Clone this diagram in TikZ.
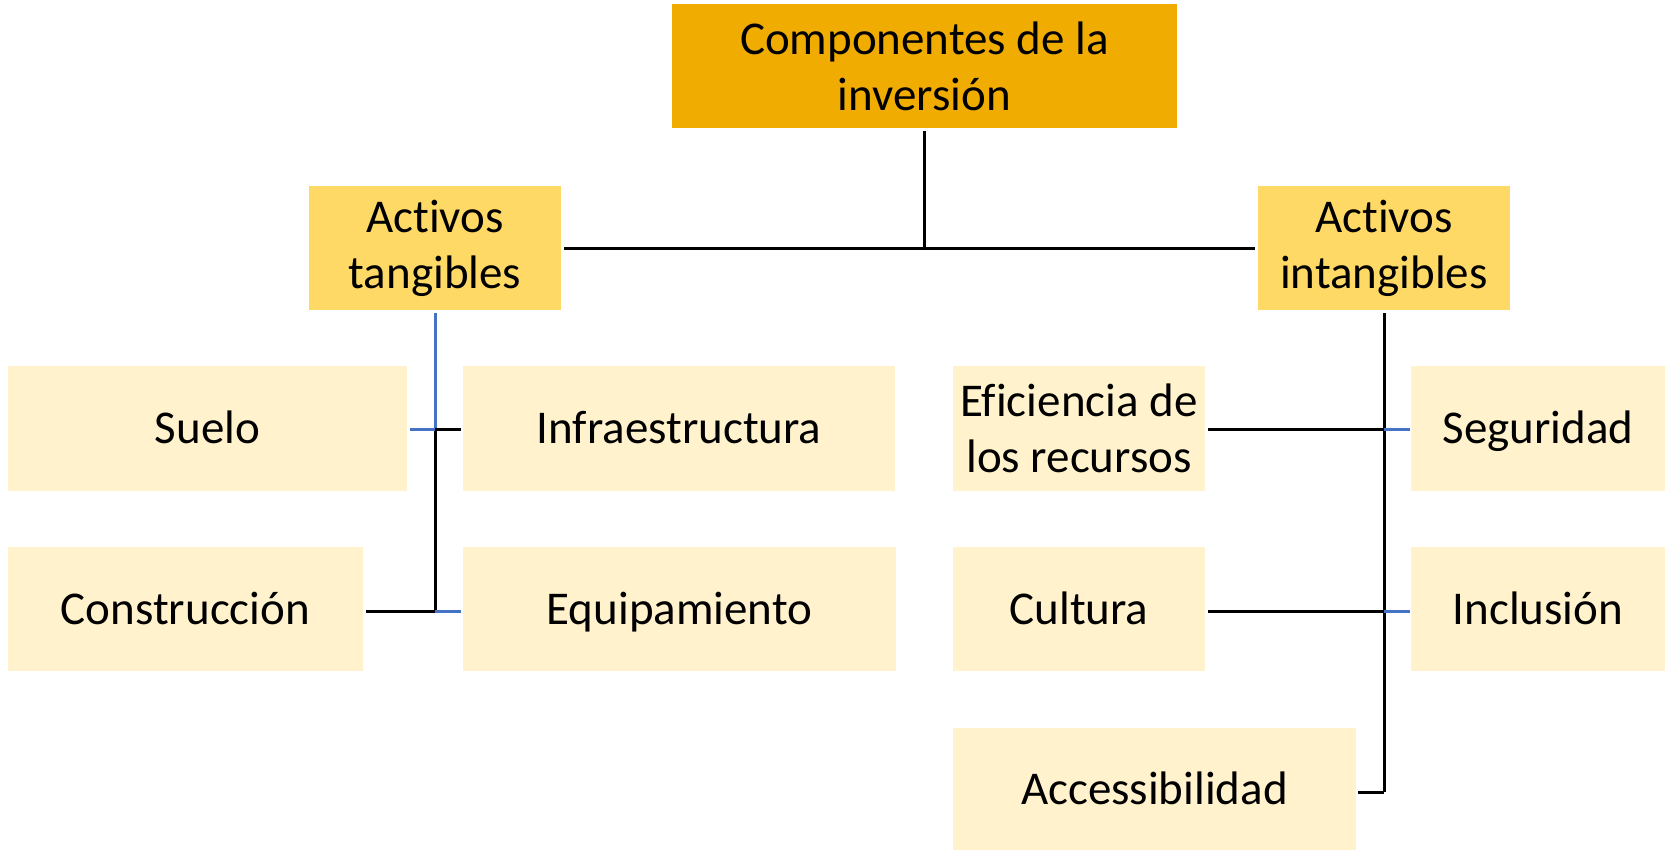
\documentclass[tikz,border=0pt]{standalone}
\usepackage{fontspec}
\setmainfont{Carlito}[Ligatures=NoCommon]
\definecolor{rootc}{HTML}{F0AC00}
\definecolor{midc}{HTML}{FFD966}
\definecolor{leafc}{HTML}{FFF2CC}
\definecolor{bluec}{HTML}{4472C4}
\begin{document}
\begin{tikzpicture}[x=1pt,y=-1pt,
  box/.style={rectangle, inner sep=0pt, align=center, font=\fontsize{47}{56}\selectfont, text=black},
  rootbox/.style={box, fill=rootc},
  midbox/.style={box, fill=midc},
  leafbox/.style={box, fill=leafc},
  oneline/.style={leafbox, text height=30pt, text depth=0pt},
  blk/.style={draw=black, line width=3pt},
  blu/.style={draw=bluec, line width=3pt}]
\useasboundingbox[fill=white] (0,0) rectangle (1665,851);
\node[rootbox, minimum width=505pt, minimum height=124pt] (root) at (924.5,66) {Componentes de la\\inversión};
\node[midbox, minimum width=252pt, minimum height=124pt] (tang) at (435,248) {Act{}ivos\\tangibles};
\node[midbox, minimum width=252pt, minimum height=124pt] (intang) at (1384,248) {Act{}ivos\\intangibles};
\node[oneline, minimum width=399pt, minimum height=125pt] (suelo) at (207.5,428.5) {Suelo};
\node[oneline, minimum width=432pt, minimum height=125pt] (infra) at (679,428.5) {Infraestructura};
\node[oneline, minimum width=355pt, minimum height=124pt] (constr) at (185.5,609) {Construcción};
\node[oneline, minimum width=433pt, minimum height=124pt] (equip) at (679.5,609) {Equipamiento};
\node[leafbox, minimum width=252pt, minimum height=125pt] (efic) at (1079,428.5) {Ef{}iciencia de\\los recursos};
\node[oneline, minimum width=254pt, minimum height=125pt] (segur) at (1538,428.5) {Seguridad};
\node[oneline, minimum width=252pt, minimum height=124pt] (cultura) at (1079,609) {Cultura};
\node[oneline, minimum width=254pt, minimum height=124pt] (inclus) at (1538,609) {Inclusión};
\node[oneline, minimum width=403pt, minimum height=122pt] (access) at (1154.5,789) {Accessibilidad};
% junctions
\coordinate (top) at (924.5,247);
\coordinate (lj1) at (435,429);
\coordinate (lj2) at (435,611);
\coordinate (rj1) at (1384,429);
\coordinate (rj2) at (1384,611);
\coordinate (rj3) at (1384,792);
% root connectors
\draw[blk] ([yshift=-3pt]root.south) -- (top);
\draw[blk] ([xshift=3pt]tang.east) -- ([xshift=-3pt]intang.west);
% left trunk
\draw[blu] ([yshift=-3pt]tang.south) -- (lj1);
\draw[blk] (lj1) -- (lj2);
\draw[blu] ([xshift=3pt]suelo.east |- lj1) -- (lj1);
\draw[blk] (lj1) -- ([xshift=-2pt]infra.west |- lj1);
\draw[blk] ([xshift=3pt]constr.east |- lj2) -- (lj2);
\draw[blu] (lj2) -- ([xshift=-2pt]equip.west |- lj2);
% right trunk
\draw[blk] ([yshift=-3pt]intang.south) -- (rj3);
\draw[blk] ([xshift=3pt]efic.east |- rj1) -- (rj1);
\draw[blu] (rj1) -- ([xshift=-1pt]segur.west |- rj1);
\draw[blk] ([xshift=3pt]cultura.east |- rj2) -- (rj2);
\draw[blu] (rj2) -- ([xshift=-1pt]inclus.west |- rj2);
\draw[blk] ([xshift=2pt]access.east |- rj3) -- (rj3);
\end{tikzpicture}
\end{document}
